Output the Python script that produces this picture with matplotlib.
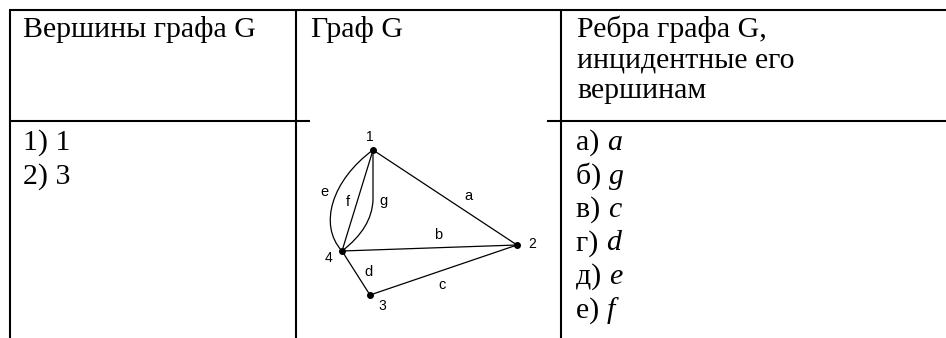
import matplotlib
matplotlib.use("Agg")
import matplotlib.pyplot as plt
from matplotlib.path import Path
from matplotlib.patches import PathPatch

# ---- data ----
header_col1 = ["Вершины графа G"]
header_col2 = ["Граф G"]
header_col3 = ["Ребра графа G,", "инцидентные его", "вершинам"]
vertex_options = ["1) 1", "2) 3"]
edge_prefixes = ["а)", "б)", "в)", "г)", "д)", "е)"]
edge_letters = ["a", "g", "c", "d", "e", "f"]

node_names = ["1", "2", "3", "4"]
node_x = [373, 517, 370, 342]
node_y = [150, 245, 295, 251]
node_label_dx = [-3, 15, 12, -14]
node_label_dy = [-13, -1, 11, 7]

straight_edges = [("1", "2", "a"), ("4", "2", "b"), ("3", "2", "c"), ("4", "3", "d"), ("1", "4", "f")]
edge_label_names = ["e", "f", "g", "a", "b", "d", "c"]
edge_label_x = [324, 348, 383, 468, 438, 368, 442]
edge_label_y = [192, 202, 201, 196, 235, 272, 285]

# table geometry (pixels)
W, H = 946, 338
col_x = [10, 296, 561]
top_y = 9.5
header_y = 121

fig = plt.figure(figsize=(W / 100, H / 100), dpi=100)
ax = fig.add_axes([0, 0, 1, 1])
ax.set_xlim(0, W)
ax.set_ylim(H, 0)
ax.axis("off")

tlw = 1.5
ax.plot([col_x[0] - 1, W], [top_y, top_y], color="black", lw=tlw, solid_capstyle="butt")
for cx in col_x:
    ax.plot([cx, cx], [top_y, H], color="black", lw=tlw, solid_capstyle="butt")
ax.plot([col_x[0], 310], [header_y, header_y], color="black", lw=tlw, solid_capstyle="butt")
ax.plot([547, W], [header_y, header_y], color="black", lw=tlw, solid_capstyle="butt")

serif = "Liberation Serif"
fs = 21.5
head_h = 30.5
row_h = 33.5
ax.text(23, 37, header_col1[0], family=serif, fontsize=fs, va="baseline", ha="left")
ax.text(311, 37, header_col2[0], family=serif, fontsize=fs, va="baseline", ha="left")
for i, s in enumerate(header_col3):
    ax.text(577, 37 + i * head_h, s, family=serif, fontsize=fs, va="baseline", ha="left")

for i, s in enumerate(vertex_options):
    ax.text(23, 150 + i * row_h, s, family=serif, fontsize=fs, va="baseline", ha="left")

fig.canvas.draw()
for i, (p, l) in enumerate(zip(edge_prefixes, edge_letters)):
    y = 150 + i * row_h
    t = ax.text(576, y, p + " ", family=serif, fontsize=fs, va="baseline", ha="left")
    bb = t.get_window_extent(renderer=fig.canvas.get_renderer())
    x_end = ax.transData.inverted().transform((bb.x1, bb.y0))[0]
    ax.text(x_end, y, l, family=serif, fontsize=fs, style="italic", va="baseline", ha="left")

# ---- graph ----
pos = {n: (x, y) for n, x, y in zip(node_names, node_x, node_y)}
glw = 0.9
for a, b, _ in straight_edges:
    ax.plot([pos[a][0], pos[b][0]], [pos[a][1], pos[b][1]], color="black", lw=glw)

p1, p4 = pos["1"], pos["4"]
e_path = Path([p1, (332, 180), (318, 225), p4],
              [Path.MOVETO, Path.CURVE4, Path.CURVE4, Path.CURVE4])
ax.add_patch(PathPatch(e_path, fill=False, lw=glw, color="black"))
g_path = Path([p1, (p1[0], 200), (372, 228), p4],
              [Path.MOVETO, Path.LINETO, Path.CURVE3, Path.CURVE3])
ax.add_patch(PathPatch(g_path, fill=False, lw=glw, color="black"))

ax.scatter(node_x, node_y, s=16, color="black", zorder=5)

sans = "Liberation Sans"
for n, x, y, dx, dy in zip(node_names, node_x, node_y, node_label_dx, node_label_dy):
    ax.text(x + dx, y + dy, n, family=sans, fontsize=10, ha="center", va="center")
for n, x, y in zip(edge_label_names, edge_label_x, edge_label_y):
    ax.text(x, y, n, family=sans, fontsize=10.5, ha="center", va="center")

fig.savefig("out.png", dpi=100)
